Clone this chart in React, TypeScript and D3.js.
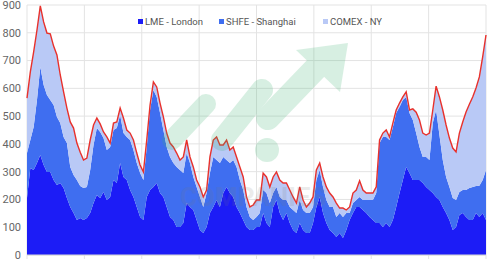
import React from "react";
import * as d3 from "d3";

const LME = [
  205,313,306,331,360,324,299,299,270,252,259,241,205,173,151,126,133,126,133,151,187,216,205,227,
  198,209,270,259,331,281,270,234,209,173,137,126,209,234,245,259,223,209,173,137,126,101,101,115,
  187,173,162,126,90,79,101,151,173,198,173,223,245,223,209,173,151,126,101,90,90,101,101,
  151,115,101,173,198,151,126,151,115,90,79,115,90,79,79,115,173,209,151,115,90,79,65,
  79,61,90,126,151,173,173,162,151,137,126,115,115,101,115,101,126,173,223,270,317,295,270,
  270,270,259,245,234,223,209,198,173,151,126,90,101,144,151,137,126,126,151,137,151,126,
];
const SHFE = [
  162,101,155,227,317,288,277,259,270,245,216,184,198,144,137,144,115,115,112,155,209,241,238,194,
  180,180,180,198,173,158,155,180,169,158,158,144,180,288,349,310,288,241,216,216,205,216,205,180,
  180,158,119,119,119,94,122,144,180,144,158,130,97,108,133,144,119,108,72,47,36,36,50,
  83,108,86,50,47,58,72,47,58,72,72,83,72,72,72,58,97,97,94,83,83,94,72,
  72,76,61,25,36,25,36,36,47,61,72,108,288,324,310,313,335,338,310,288,252,216,216,
  169,119,94,108,108,252,313,234,169,130,119,115,97,83,83,97,115,119,97,112,119,180,
];
const COMEX = [
  198,245,270,252,220,227,223,238,212,223,173,162,126,162,169,133,122,101,104,108,72,36,29,22,
  47,14,25,22,25,54,25,25,36,36,29,29,25,18,29,36,36,47,50,50,58,50,36,58,
  47,22,36,25,36,36,11,58,61,83,65,43,72,47,47,36,47,47,36,36,54,61,47,
  61,58,58,58,54,61,61,61,61,47,36,47,36,22,36,36,36,25,36,47,50,36,50,
  18,32,11,22,36,36,58,36,25,25,25,22,11,14,25,11,14,11,14,11,18,11,40,
  75,97,86,79,97,47,86,137,180,187,176,180,173,212,245,281,302,324,353,392,443,486,
];
const SERIES = ["LME - London", "SHFE - Shanghai", "COMEX - NY"];
const COLORS = ["#1c1cf6", "#3f6ef0", "#b9c9f6"];
const Y_TICKS = [0, 100, 200, 300, 400, 500, 600, 700, 800, 900];
const X_GRID = [0, 1, 2, 3, 4, 5, 6, 7, 8];
const LEGEND_X = [138, 219, 323];

export default function App() {
  const W = 497, H = 261;
  const left = 27, right = 486, top = 5, bottom = 255;
  const n = LME.length;
  const rows = LME.map((v, i) => ({ i, a: v, b: SHFE[i], c: COMEX[i] }));
  const stack = d3.stack<any>().keys(["a", "b", "c"]);
  const layers = stack(rows);
  const x = d3.scaleLinear().domain([0, n - 1]).range([left, right]);
  const y = d3.scaleLinear().domain([0, 900]).range([bottom, top]);
  const gx = d3.scaleLinear().domain([0, 8]).range([left, right]);
  const area = d3
    .area<any>()
    .x((d) => x(d.data.i))
    .y0((d) => y(d[0]))
    .y1((d) => y(d[1]));
  const line = d3
    .line<any>()
    .x((d) => x(d.i))
    .y((d) => y(d.a + d.b + d.c));

  const font = "Roboto, 'Noto Sans', sans-serif";

  return (
    <svg
      width={W}
      height={H}
      style={{ position: "absolute", left: 0, top: 0, background: "#fff" }}
    >
      {Y_TICKS.map((t) => (
        <g key={t}>
          <line x1={left} x2={right} y1={y(t)} y2={y(t)} stroke="#e3e3e3" strokeWidth={1} />
          <text
            x={21}
            y={y(t)}
            dy="0.35em"
            textAnchor="end"
            fontSize={11}
            fill="#666"
            fontFamily={font}
          >
            {t}
          </text>
        </g>
      ))}
      {X_GRID.map((g) => (
        <line
          key={g}
          x1={gx(g)}
          x2={gx(g)}
          y1={top}
          y2={bottom + 4}
          stroke="#e3e3e3"
          strokeWidth={1}
        />
      ))}
      {layers.map((l, k) => (
        <path key={k} d={area(l) || ""} fill={COLORS[k]} />
      ))}
      <path d={line(rows) || ""} fill="none" stroke="#e8312c" strokeWidth={1.4} />
      <line x1={left} x2={right} y1={bottom} y2={bottom} stroke="#d8d8d8" />

      {/* watermark */}
      <g opacity={0.2} fill="#3cb371" stroke="#3cb371" strokeLinecap="round">
        <line x1={172} y1={140} x2={206} y2={104} strokeWidth={20} />
        <line x1={222} y1={140} x2={262} y2={90} strokeWidth={22} />
        <line x1={268} y1={118} x2={318} y2={66} strokeWidth={24} />
        <circle cx={267} cy={150} r={12} stroke="none" />
        <polygon points="296,50 348,43 340,92" stroke="none" />
      </g>
      <text
        x={180}
        y={206}
        fontSize={26}
        fontWeight="bold"
        fill="#777"
        opacity={0.14}
        fontFamily={font}
      >
        COMPANIES
      </text>

      {SERIES.map((s, k) => (
        <g key={s}>
          <rect x={LEGEND_X[k]} y={19} width={5} height={5} fill={COLORS[k]} />
          <text
            x={LEGEND_X[k] + 7}
            y={21.7}
            dy="0.35em"
            fontSize={9.5}
            fill="#555"
            fontFamily={font}
          >
            {s}
          </text>
        </g>
      ))}
    </svg>
  );
}
